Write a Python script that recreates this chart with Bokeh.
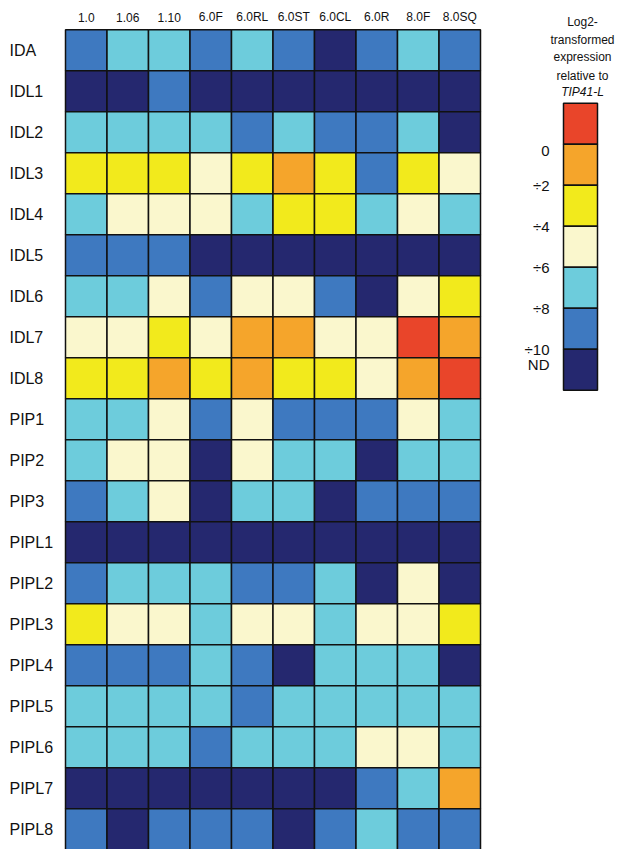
from bokeh.plotting import figure
from bokeh.models import Range1d, ColumnDataSource
from bokeh.core.properties import value
from bokeh.embed import file_html
from bokeh.resources import INLINE

# ---- data ----
samples = ["1.0", "1.06", "1.10", "6.0F", "6.0RL", "6.0ST", "6.0CL", "6.0R", "8.0F", "8.0SQ"]
genes = ["IDA", "IDL1", "IDL2", "IDL3", "IDL4", "IDL5", "IDL6", "IDL7", "IDL8",
         "PIP1", "PIP2", "PIP3", "PIPL1", "PIPL2", "PIPL3", "PIPL4", "PIPL5",
         "PIPL6", "PIPL7", "PIPL8"]
# level codes: 0 = ND, 1 = -10..-8, 2 = -8..-6, 3 = -6..-4, 4 = -4..-2, 5 = -2..0, 6 = >0
IDA   = [1, 2, 2, 1, 2, 1, 0, 1, 2, 1]
IDL1  = [0, 0, 1, 0, 0, 0, 0, 0, 0, 0]
IDL2  = [2, 2, 2, 2, 1, 2, 1, 1, 2, 0]
IDL3  = [4, 4, 4, 3, 4, 5, 4, 1, 4, 3]
IDL4  = [2, 3, 3, 3, 2, 4, 4, 2, 3, 2]
IDL5  = [1, 1, 1, 0, 0, 0, 0, 0, 0, 0]
IDL6  = [2, 2, 3, 1, 3, 3, 1, 0, 3, 4]
IDL7  = [3, 3, 4, 3, 5, 5, 3, 3, 6, 5]
IDL8  = [4, 4, 5, 4, 5, 4, 4, 3, 5, 6]
PIP1  = [2, 2, 3, 1, 3, 1, 1, 1, 3, 2]
PIP2  = [2, 3, 3, 0, 3, 2, 2, 0, 2, 2]
PIP3  = [1, 2, 3, 0, 2, 2, 0, 1, 1, 1]
PIPL1 = [0, 0, 0, 0, 0, 0, 0, 0, 0, 0]
PIPL2 = [1, 2, 2, 2, 1, 1, 2, 0, 3, 0]
PIPL3 = [4, 3, 3, 2, 3, 3, 2, 3, 3, 4]
PIPL4 = [1, 1, 1, 2, 1, 0, 2, 2, 2, 0]
PIPL5 = [2, 2, 2, 2, 1, 2, 2, 2, 2, 2]
PIPL6 = [2, 2, 2, 1, 2, 2, 2, 3, 3, 2]
PIPL7 = [0, 0, 0, 0, 0, 0, 0, 1, 2, 5]
PIPL8 = [1, 0, 1, 1, 1, 0, 1, 2, 1, 1]
matrix = [IDA, IDL1, IDL2, IDL3, IDL4, IDL5, IDL6, IDL7, IDL8, PIP1, PIP2, PIP3,
          PIPL1, PIPL2, PIPL3, PIPL4, PIPL5, PIPL6, PIPL7, PIPL8]

palette = ["#25286F", "#3E79C0", "#6DCCDC", "#FAF7CD", "#F2EA1C", "#F5A52B", "#E9452A"]
legend_title = ["Log2-", "transformed", "expression", "relative to", "TIP41-L"]
legend_labels = ["0", "÷2", "÷4", "÷6", "÷8", "÷10"]
nd_label = "ND"

FONT = value("Liberation Sans")

W, H = 618, 849
CW, RH = 41.5, 41.0        # pixel size of one cell
X0, Y0 = 65.0, 29.3        # pixel position of the grid's top-left corner

p = figure(width=W, height=H, output_backend="svg", toolbar_location=None,
           x_range=Range1d(-X0 / CW, (W - X0) / CW),
           y_range=Range1d((H - Y0) / RH, -Y0 / RH),
           min_border=0, outline_line_color=None)
p.axis.visible = False
p.grid.visible = False
p.background_fill_color = "white"
p.border_fill_color = "white"

xs, ys, cs = [], [], []
for r, row in enumerate(matrix):
    for c, v in enumerate(row):
        xs.append(c + 0.5)
        ys.append(r + 0.5)
        cs.append(palette[v])
src = ColumnDataSource(dict(x=xs, y=ys, color=cs))
p.rect(x="x", y="y", width=1, height=1, source=src, fill_color="color",
       line_color="#111111", line_width=1.5)

# column labels
p.text(x=[i + 0.5 for i in range(len(samples))], y=[-0.307] * len(samples), text=samples,
       text_font=FONT, text_font_size="12px", text_align="center",
       text_baseline="middle", text_color="#111111")
# row labels
p.text(x=[-1.35] * len(genes), y=[i + 0.5 for i in range(len(genes))], text=genes,
       text_font=FONT, text_font_size="16px", text_align="left",
       text_baseline="middle", text_color="#111111")

# legend colour bar
lx = (580 - X0) / CW
ltop = (102.7 - Y0) / RH
n = len(palette)
leg_src = ColumnDataSource(dict(
    x=[lx] * n,
    y=[ltop + i + 0.5 for i in range(n)],
    color=list(reversed(palette))))
p.rect(x="x", y="y", width=34 / CW, height=1, source=leg_src, fill_color="color",
       line_color="#111111", line_width=1.5)

lab_x = (549 - X0) / CW
lab_y = [ltop + 1 + i for i in range(len(legend_labels))]
lab_y[0] += 0.17
p.text(x=[lab_x] * len(legend_labels), y=lab_y, text=legend_labels,
       text_font=FONT, text_font_size="15px", text_align="right",
       text_baseline="middle", text_color="#111111")
p.text(x=[lab_x], y=[ltop + 6.37], text=[nd_label],
       text_font=FONT, text_font_size="15px", text_align="right",
       text_baseline="middle", text_color="#111111")

# legend title
tx = (582 - X0) / CW
ty = [(v - Y0) / RH for v in (21.7, 39.3, 56.7, 75.0, 91.7)]
p.text(x=[tx] * 4, y=ty[:4], text=legend_title[:4],
       text_font=FONT, text_font_size="12px", text_align="center",
       text_baseline="middle", text_color="#111111")
p.text(x=[tx], y=[ty[4]], text=[legend_title[4]],
       text_font=FONT, text_font_size="12px", text_font_style="italic",
       text_align="center", text_baseline="middle", text_color="#111111")

open("out.html", "w").write(file_html(p, INLINE))
